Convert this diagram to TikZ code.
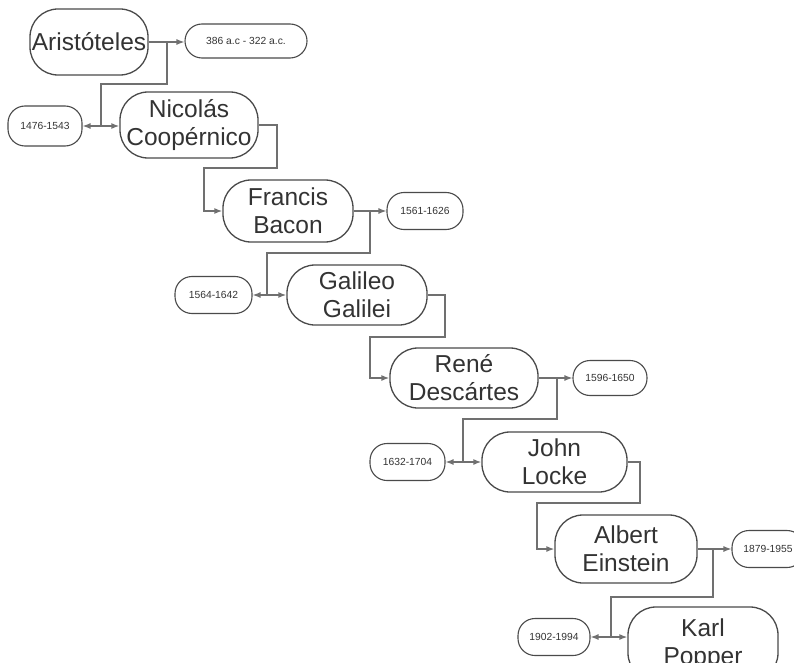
\documentclass[tikz,border=0pt]{standalone}
\usepackage{fontspec}
\setmainfont{Liberation Sans}
\usetikzlibrary{arrows.meta}
\definecolor{txt}{HTML}{333333}
\definecolor{edge}{HTML}{4A4A4A}
\definecolor{wire}{HTML}{707070}
\begin{document}
\begin{tikzpicture}[x=1pt,y=-1pt,
  person/.style={draw=edge,line width=1.3pt,rounded corners=28pt,inner sep=0pt,
    align=center,text=txt,font=\fontsize{24.5}{28}\selectfont},
  dates/.style={draw=edge,line width=1.1pt,rounded corners=17pt,inner sep=0pt,
    align=center,text=txt,font=\fontsize{10.3}{12}\selectfont,
    minimum height=37pt},
  wireline/.style={draw=wire,line width=1.3pt},
  wirearrow/.style={wireline,-{Latex[length=8pt,width=6pt]}}]
\useasboundingbox (0,0) rectangle (794,663);
\clip (0,0) rectangle (794,663);

% people
\node[person,minimum width=118pt,minimum height=66pt] (A) at (89,42) {Aristóteles};
\node[person,minimum width=138pt,minimum height=66pt] (N) at (189,125) {Nicolás\\Coopérnico};
\node[person,minimum width=130pt,minimum height=62pt] (F) at (288,211) {Francis\\Bacon};
\node[person,minimum width=140pt,minimum height=60pt] (G) at (357,295) {Galileo\\Galilei};
\node[person,minimum width=148pt,minimum height=60pt] (R) at (464,378) {René\\Descártes};
\node[person,minimum width=145pt,minimum height=60pt] (J) at (554.5,462) {John\\Locke};
\node[person,minimum width=142pt,minimum height=68pt] (E) at (626,549) {Albert\\Einstein};
\node[person,minimum width=150pt,minimum height=74pt] (K) at (703,644) {Karl\\Popper};

% life spans
\node[dates,minimum width=122pt,minimum height=34pt] (dA) at (246,41) {386 a.c - 322 a.c.};
\node[dates,minimum width=74pt,minimum height=40pt] (dN) at (45,126) {1476-1543};
\node[dates,minimum width=76pt] (dF) at (425,211) {1561-1626};
\node[dates,minimum width=77pt] (dG) at (213.5,295) {1564-1642};
\node[dates,minimum width=74pt,minimum height=35pt] (dR) at (610,378) {1596-1650};
\node[dates,minimum width=75pt] (dJ) at (407.5,462) {1632-1704};
\node[dates,minimum width=72pt] (dE) at (768,549) {1879-1955};
\node[dates,minimum width=72pt] (dK) at (554,637) {1902-1994};

% junctions
\coordinate (bA) at (167,42);
\coordinate (jA) at (101,126);
\coordinate (bF) at (370,211);
\coordinate (jF) at (267,295);
\coordinate (bR) at (557,378);
\coordinate (jR) at (463,462);
\coordinate (bE) at (713,549);
\coordinate (jE) at (611,637);

% Aristoteles
\draw[wirearrow] (A.east) -- (A.east -| dA.west);
\draw[wireline] (bA) |- (101,84) -- (jA);
\draw[wirearrow] (jA) -- (jA -| dN.east);
\draw[wirearrow] (jA) -- (jA -| N.west);

% Copernico
\draw[wirearrow] (N.east) -- (277,125) -- (277,168) -- (204,168) |- (F.west);

% Bacon
\draw[wirearrow] (F.east) -- (F.east -| dF.west);
\draw[wireline] (bF) |- (267,253) -- (jF);
\draw[wirearrow] (jF) -- (jF -| dG.east);
\draw[wirearrow] (jF) -- (jF -| G.west);

% Galileo
\draw[wirearrow] (G.east) -- (445,295) -- (445,337) -- (370,337) |- (R.west);

% Descartes
\draw[wirearrow] (R.east) -- (R.east -| dR.west);
\draw[wireline] (bR) |- (463,419) -- (jR);
\draw[wirearrow] (jR) -- (jR -| dJ.east);
\draw[wirearrow] (jR) -- (jR -| J.west);

% Locke
\draw[wirearrow] (J.east) -- (640,462) -- (640,503) -- (537,503) |- (E.west);

% Einstein
\draw[wirearrow] (E.east) -- (E.east -| dE.west);
\draw[wireline] (bE) |- (611,597) -- (jE);
\draw[wirearrow] (jE) -- (jE -| dK.east);
\draw[wirearrow] (jE) -- (jE -| K.west);
\end{tikzpicture}
\end{document}
